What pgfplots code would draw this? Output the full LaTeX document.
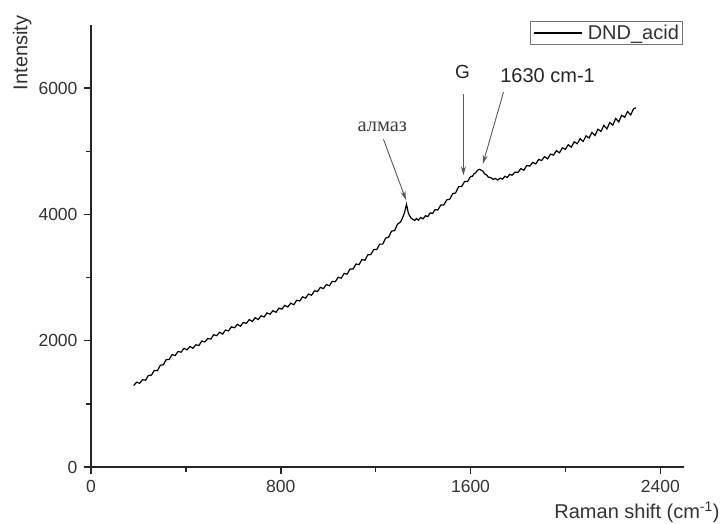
\documentclass[border=0pt]{standalone}
\usepackage{fontspec}
\setmainfont{Liberation Sans}
\newfontfamily\cyrserif{Liberation Serif}
\usepackage{pgfplots}
\pgfplotsset{compat=1.18}
\usetikzlibrary{arrows.meta}
\pgfplotstableread{
x y
180 1290
192 1343
205 1325
217 1382
230 1375
242 1450
255 1455
267 1530
280 1525
292 1610
305 1620
317 1700
330 1705
342 1780
355 1765
367 1830
380 1818
392 1880
405 1855
417 1908
430 1880
442 1935
455 1925
467 1995
480 1980
492 2035
505 2025
517 2095
530 2080
542 2135
555 2105
567 2170
580 2155
592 2220
605 2205
617 2260
630 2230
642 2290
655 2275
667 2335
680 2305
692 2365
705 2335
717 2395
730 2375
742 2440
755 2420
767 2475
780 2450
792 2515
805 2500
817 2560
830 2535
842 2595
855 2570
867 2640
880 2630
892 2695
905 2675
917 2740
930 2720
942 2790
955 2780
967 2845
980 2825
992 2890
1005 2870
1017 2940
1030 2935
1042 3005
1055 2990
1067 3065
1080 3055
1092 3135
1105 3135
1117 3215
1130 3205
1142 3285
1155 3275
1167 3360
1180 3365
1192 3445
1205 3445
1217 3530
1230 3530
1242 3625
1255 3640
1267 3735
1280 3745
1292 3845
1305 3880
1315 3960
1322 4030
1327 4110
1330 4160
1334 4090
1338 4020
1344 3975
1350 3940
1357 3920
1365 3905
1372 3935
1380 3910
1390 3950
1400 3930
1410 3980
1420 3965
1430 4025
1440 4015
1450 4075
1462 4070
1475 4150
1487 4150
1500 4230
1512 4240
1525 4330
1537 4340
1550 4440
1562 4440
1575 4520
1587 4520
1600 4600
1608 4605
1615 4645
1622 4660
1630 4700
1637 4715
1645 4700
1652 4685
1660 4640
1668 4625
1675 4590
1685 4585
1695 4555
1705 4570
1715 4545
1725 4575
1735 4560
1745 4605
1755 4585
1765 4635
1775 4620
1787 4670
1800 4665
1812 4725
1825 4700
1837 4775
1850 4765
1862 4825
1875 4800
1887 4870
1900 4855
1912 4915
1925 4880
1937 4955
1950 4940
1962 5010
1975 4975
1987 5055
2000 5030
2012 5105
2025 5065
2037 5150
2050 5120
2062 5200
2075 5155
2087 5245
2100 5210
2112 5300
2125 5250
2137 5350
2150 5315
2162 5410
2175 5355
2187 5455
2200 5415
2212 5520
2225 5465
2237 5570
2250 5540
2262 5630
2275 5575
2287 5670
2297 5690
}\spectrum
\begin{document}
\begin{tikzpicture}
\begin{axis}[
  name=ax,
  at={(0,0)}, anchor=south west,
  scale only axis,
  width=593pt, height=442pt,
  xmin=0, xmax=2500, ymin=0, ymax=7000,
  axis x line*=bottom, axis y line*=left,
  axis line style={line width=1.5pt, black!85},
  tick style={line width=1.5pt, black!85},
  tick align=outside,
  major tick length=7pt, minor tick length=4.5pt,
  xtick={0,800,1600,2400}, minor xtick={400,1200,2000},
  ytick={0,2000,4000,6000}, minor ytick={1000,3000,5000},
  scaled ticks=false,
  /pgf/number format/assume math mode=true,
  /pgf/number format/1000 sep={},
  tick label style={font=\fontsize{17.5}{19}\selectfont, text=black!80},
  xticklabel style={yshift=-3pt},
  yticklabel style={xshift=-3pt},
  xlabel={Raman shift (cm\textsuperscript{-1})},
  ylabel={Intensity},
  label style={font=\fontsize{20}{22}\selectfont, text=black!80},
  xlabel style={at={(axis description cs:1.066,-0.102)}, anchor=east},
  ylabel style={at={(axis description cs:-0.116,0.937)}, anchor=center},
  legend style={at={(rel axis cs:0.998,1.009)}, anchor=north east,
    draw=black!55, line width=0.8pt, inner sep=1.5pt,
    font=\fontsize{20}{22}\selectfont, text=black!80},
  legend cell align=left,
  legend image code/.code={\draw[#1] (2pt,0pt) -- (50pt,0pt); \path (0pt,0pt) (53pt,0pt);},
]
\addplot[black, line width=1.2pt] table[x=x,y=y] {\spectrum};
\addlegendentry{DND\_acid}
\draw[-{Stealth[length=9pt,width=5pt]}, black!65, line width=0.9pt] (axis cs:1233,5190) -- (axis cs:1328,4230);
\draw[-{Stealth[length=9pt,width=5pt]}, black!65, line width=0.9pt] (axis cs:1570,5905) -- (axis cs:1570,4620);
\draw[-{Stealth[length=9pt,width=5pt]}, black!65, line width=0.9pt] (axis cs:1739,5937) -- (axis cs:1652,4800);
\node[font=\cyrserif\fontsize{20.5}{22}\selectfont, text=black!75] at (axis cs:1228,5381) {алмаз};
\node[font=\fontsize{19}{21}\selectfont, text=black!85] at (axis cs:1566,6254) {G};
\node[font=\fontsize{20}{22}\selectfont, text=black!85] at (axis cs:1925,6206) {1630 cm-1};
\end{axis}
\pgfresetboundingbox
\path[use as bounding box] (ax.south west) ++(-91pt,-56pt) rectangle ++(728pt,523pt);
\end{tikzpicture}
\end{document}
